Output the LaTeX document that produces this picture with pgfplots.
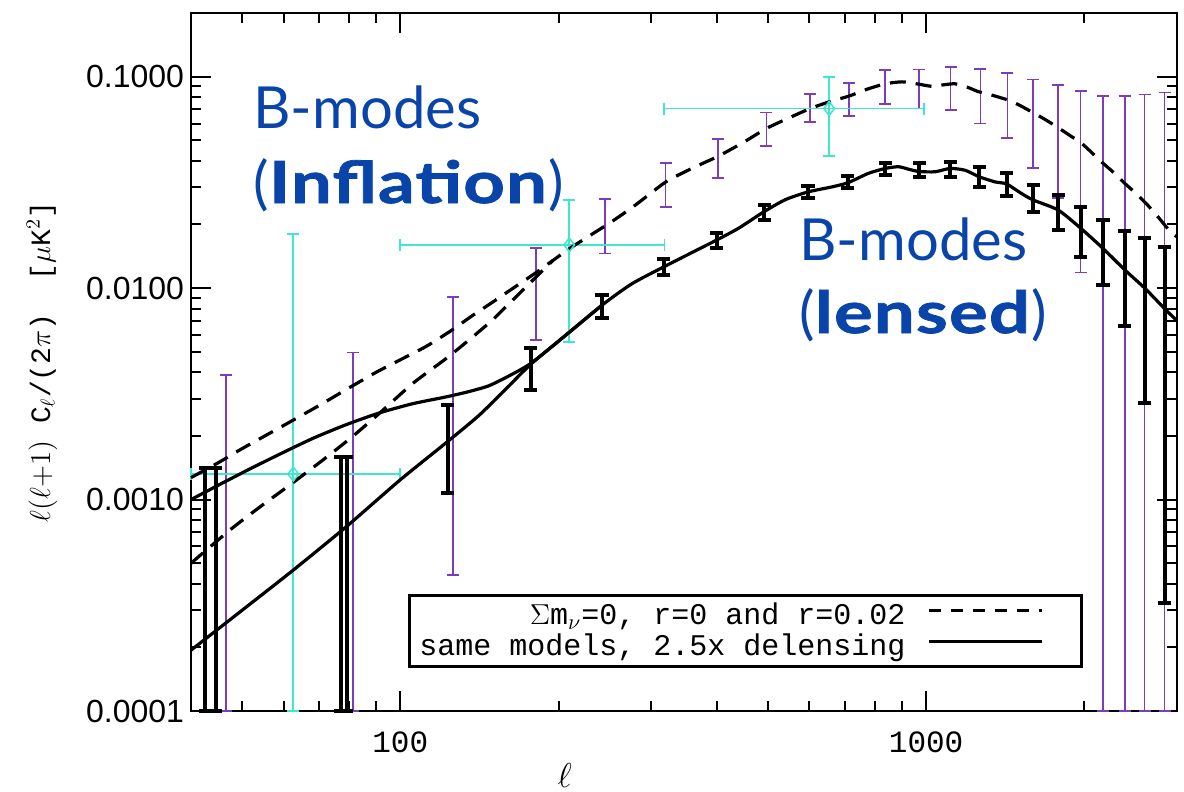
\documentclass[border=0pt]{standalone}
\usepackage{fontspec}
\usepackage{pgfplots}
\usepackage{pgfplotstable}
\pgfplotsset{compat=1.18}
\newfontfamily\helv{Liberation Sans}
\newfontfamily\mono{Liberation Mono}
\newfontfamily\lato{Lato}
\definecolor{bmblue}{RGB}{8,68,170}
\definecolor{purp}{RGB}{125,60,185}
\definecolor{turq}{RGB}{64,230,205}

\pgfplotstableread{
l y lo hi
42.6 0.00022 0.0001 0.00141
44.6 0.00025 0.0001 0.00141
77.0 0.00070 0.0001 0.00159
79.1 0.00075 0.0001 0.00159
123 0.0019 0.00107 0.0028
177 0.0043 0.0033 0.00519
242 0.0082 0.0072 0.00927
317 0.0126 0.0115 0.0138
400 0.0168 0.0154 0.01826
492 0.0229 0.0211 0.0247
596 0.0286 0.0268 0.0305
710 0.0317 0.0296 0.0339
836 0.0365 0.0342 0.0389
970 0.0360 0.0336 0.0389
1111 0.0364 0.0334 0.0396
1262 0.0338 0.0301 0.0375
1422 0.0310 0.0272 0.0349
1598 0.0268 0.0230 0.0307
1783 0.0232 0.0188 0.0275
1968 0.0191 0.01406 0.0242
2170 0.0157 0.0104 0.02097
2386 0.0126 0.00661 0.01866
2604 0.0100 0.00285 0.01718
2841 0.0080 0.000323 0.01568
}\blackbars

\pgfplotstableread{
l y lo hi
46.6 0.00155 0.0001 0.00388
81.3 0.00345 0.0001 0.00497
126 0.0064 0.00044 0.00906
181 0.0118 0.00568 0.0155
245 0.0196 0.0146 0.0264
319.5 0.0318 0.0242 0.0391
402 0.0418 0.0332 0.0506
497 0.0569 0.0469 0.0677
602 0.0707 0.0611 0.0827
714 0.0810 0.0650 0.0935
836 0.0925 0.0741 0.1073
970 0.0920 0.0707 0.1080
1113 0.0920 0.0694 0.1112
1268 0.0850 0.0600 0.1085
1427 0.0775 0.0512 0.1042
1598 0.0680 0.0371 0.0970
1783 0.0580 0.0266 0.0912
1968 0.0485 0.01187 0.0854
2170 0.0390 0.0001 0.0809
2386 0.0310 0.0001 0.0809
2604 0.0255 0.0001 0.0824
2841 0.0195 0.0001 0.0842
}\purpbars

\pgfplotstableread{
l y xlo xhi lo hi
62.6 0.00132 40 100 0.0001 0.0180
209.6 0.0160 100 318 0.00557 0.0261
654 0.0707 317 990 0.0421 0.0998
}\cyanpts

\begin{document}
\begin{tikzpicture}
\begin{axis}[
  xmode=log, ymode=log,
  scale only axis, width=493pt, height=349pt,
  xmin=40, xmax=3000, ymin=1e-4, ymax=0.2,
  clip=false,
  axis line style={line width=1.3pt},
  tick style={line width=1pt, black},
  tick align=inside,
  major tick length=10pt, minor tick length=5pt,
  xtick={100,1000}, xticklabels={100,1000},
  minor xtick={50,60,70,80,90,200,300,400,500,600,700,800,900,2000,3000},
  ytick={1e-4,1e-3,1e-2,1e-1}, yticklabels={0.0001,0.0010,0.0100,0.1000},
  minor ytick={2e-4,3e-4,4e-4,5e-4,6e-4,7e-4,8e-4,9e-4,2e-3,3e-3,4e-3,5e-3,6e-3,7e-3,8e-3,9e-3,2e-2,3e-2,4e-2,5e-2,6e-2,7e-2,8e-2,9e-2,0.2},
  xticklabel style={font=\mono\fontsize{15.5}{15.5}\selectfont, yshift=-7pt},
  yticklabel style={font=\helv\fontsize{16}{16}\selectfont},
  xlabel={$\ell$},
  xlabel style={at={(axis description cs:0.379,-0.092)}, anchor=center, font=\fontsize{18}{18}\selectfont},
  ylabel={$\ell(\ell{+}1)$ C$_\ell$/(2$\pi$)\ \ [$\mu$K$^2$]},
  ylabel style={at={(axis description cs:-0.151,0.5)}, anchor=center, font=\mono\fontsize{14}{14}\selectfont},
  legend style={at={(rel axis cs:0.9047,0.0616)}, anchor=south east, draw=black, line width=1.4pt,
    font=\mono\fontsize{15}{15}\selectfont, inner xsep=5pt, inner ysep=4pt, row sep=3pt, column sep=0pt,
    nodes={inner sep=0pt}},
  legend cell align=right,
  legend plot pos=right,
  legend image code/.code={\path (0pt,0pt); \draw[#1] (11pt,0.55ex) -- (67.5pt,0.55ex); \path (81.5pt,0pt);},
]

% purple error bars (no delensing)
\addplot[forget plot, draw=none, mark=none,
  error bars/.cd, y dir=both, y explicit,
  error bar style={draw=purp, line width=0.8pt},
  error mark options={draw=purp, rotate=90, line width=0.8pt, mark size=3pt}]
  table[x=l, y=y, y error plus expr=\thisrow{hi}-\thisrow{y}, y error minus expr=\thisrow{y}-\thisrow{lo}] {\purpbars};

% cyan points
\addplot[forget plot, turq, only marks, mark=diamond, mark size=3.5pt, mark options={turq, line width=0.8pt, fill=none},
  error bars/.cd, y dir=both, y explicit, x dir=both, x explicit,
  error bar style={draw=turq, line width=0.8pt},
  error mark options={draw=turq, rotate=90, line width=0.8pt, mark size=3pt}]
  table[x=l, y=y,
    y error plus expr=\thisrow{hi}-\thisrow{y}, y error minus expr=\thisrow{y}-\thisrow{lo},
    x error plus expr=\thisrow{xhi}-\thisrow{l}, x error minus expr=\thisrow{l}-\thisrow{xlo}] {\cyanpts};

% dashed: r=0.02, no delensing
\addplot[forget plot, black, line width=1.6pt, dash pattern=on 8pt off 5pt, smooth, tension=0.4] coordinates {
(40,0.00127)(45,0.00149)(50,0.00174)(60,0.00224)(70,0.00278)(80,0.00338)(90,0.00400)(100,0.00458)
(112,0.00530)(125,0.0063)(137,0.0074)(150,0.0086)(163,0.0099)(180,0.0117)(195,0.0135)(210,0.0154)
(230,0.0178)(253,0.0207)(280,0.0247)(320,0.0318)(360,0.0370)(402,0.0420)(450,0.049)(497,0.0569)
(550,0.064)(602,0.0707)(654,0.0760)(714,0.0810)(770,0.087)(836,0.0925)(900,0.0945)(960,0.0925)
(1025,0.0900)(1080,0.0915)(1135,0.0925)(1200,0.0890)(1256,0.0850)(1340,0.0815)(1434,0.0774)
(1510,0.073)(1586,0.0682)(1670,0.0635)(1752,0.0590)(1860,0.0535)(1977,0.0483)(2060,0.044)
(2154,0.0396)(2270,0.0353)(2386,0.0313)(2500,0.0282)(2622,0.0251)(2770,0.0215)(2924,0.0183)(3000,0.0175)
};
% dashed: r=0, no delensing
\addplot[forget plot, black, line width=1.6pt, dash pattern=on 8pt off 5pt, smooth, tension=0.4] coordinates {
(40,0.00050)(47.5,0.00072)(54,0.00092)(61.6,0.00117)(71.3,0.00154)(81,0.00198)(91.3,0.00256)
(105.6,0.00354)(122.3,0.00465)(137,0.00585)(150,0.0071)(163,0.0087)(180,0.0111)(195,0.0135)
};

% solid: r=0.02, delensed
\addplot[forget plot, black, line width=1.6pt, smooth, tension=0.4] coordinates {
(40,0.00100)(45.4,0.00118)(51,0.00137)(59,0.00164)(68.3,0.00195)(78.9,0.00226)(91.3,0.00257)
(105.6,0.00284)(122.3,0.00306)(135,0.00324)(147.7,0.00346)(163.7,0.00393)(177,0.00440)(197.7,0.00548)(242,0.00831)
};
% solid: r=0, delensed
\addplot[forget plot, black, line width=1.6pt, smooth, tension=0.4] coordinates {
(40,0.000194)(51,0.000311)(62.6,0.000464)(78.9,0.000743)(100,0.00124)(123,0.00188)(141.4,0.00251)
(160,0.0034)(177,0.00436)(197.7,0.00548)(242,0.00831)(276,0.0105)(317,0.0126)(360,0.0148)(400,0.0169)
(440,0.0192)(492,0.0230)(540,0.0262)(596,0.0285)(662,0.0301)(710,0.0315)(777,0.0349)(836,0.0368)
(886,0.0375)(930,0.0364)(970,0.0356)(1040,0.0355)(1111,0.0368)(1186,0.0361)(1262,0.0336)(1352,0.0318)
(1422,0.0311)(1519,0.0280)(1598,0.0261)(1783,0.0234)(1968,0.0192)(2170,0.0154)(2386,0.0122)
(2604,0.0100)(2841,0.0080)(3000,0.0070)
};

% black thick error bars (delensed)
\addplot[forget plot, draw=none, mark=none,
  error bars/.cd, y dir=both, y explicit,
  error bar style={draw=black, line width=2pt},
  error mark options={draw=black, rotate=90, line width=2pt, mark size=3.3pt}]
  table[x=l, y=y, y error plus expr=\thisrow{hi}-\thisrow{y}, y error minus expr=\thisrow{y}-\thisrow{lo}] {\blackbars};

\addlegendimage{black, line width=1.6pt, dash pattern=on 6pt off 5pt}
\addlegendentry{$\Sigma$m$_\nu$=0, r=0 and r=0.02}
\addlegendimage{black, line width=1.6pt}
\addlegendentry{same models, 2.5x delensing}

\node[anchor=base west, text=bmblue, inner sep=0pt, font=\lato\fontsize{29}{29}\selectfont] at (rel axis cs:0.0629,0.8352) {B-modes};
\node[anchor=base west, text=bmblue, inner sep=0pt, font=\lato\fontsize{29}{29}\selectfont] at (rel axis cs:0.0629,0.7278) {(\textbf{\addfontfeatures{FakeStretch=1.25,FakeBold=1.3,LetterSpace=2}Inflation})};
\node[anchor=base west, text=bmblue, inner sep=0pt, font=\lato\fontsize{29}{29}\selectfont] at (rel axis cs:0.6166,0.6461) {B-modes};
\node[anchor=base west, text=bmblue, inner sep=0pt, font=\lato\fontsize{29}{29}\selectfont] at (rel axis cs:0.6166,0.5415) {(\textbf{\addfontfeatures{FakeStretch=1.25,FakeBold=1.3,LetterSpace=2}lensed})};
\end{axis}
\pgfresetboundingbox
\path[use as bounding box] ([xshift=-95.5pt,yshift=-40pt]current axis.south west) rectangle ([xshift=3.5pt,yshift=6.5pt]current axis.north east);
\end{tikzpicture}
\end{document}
